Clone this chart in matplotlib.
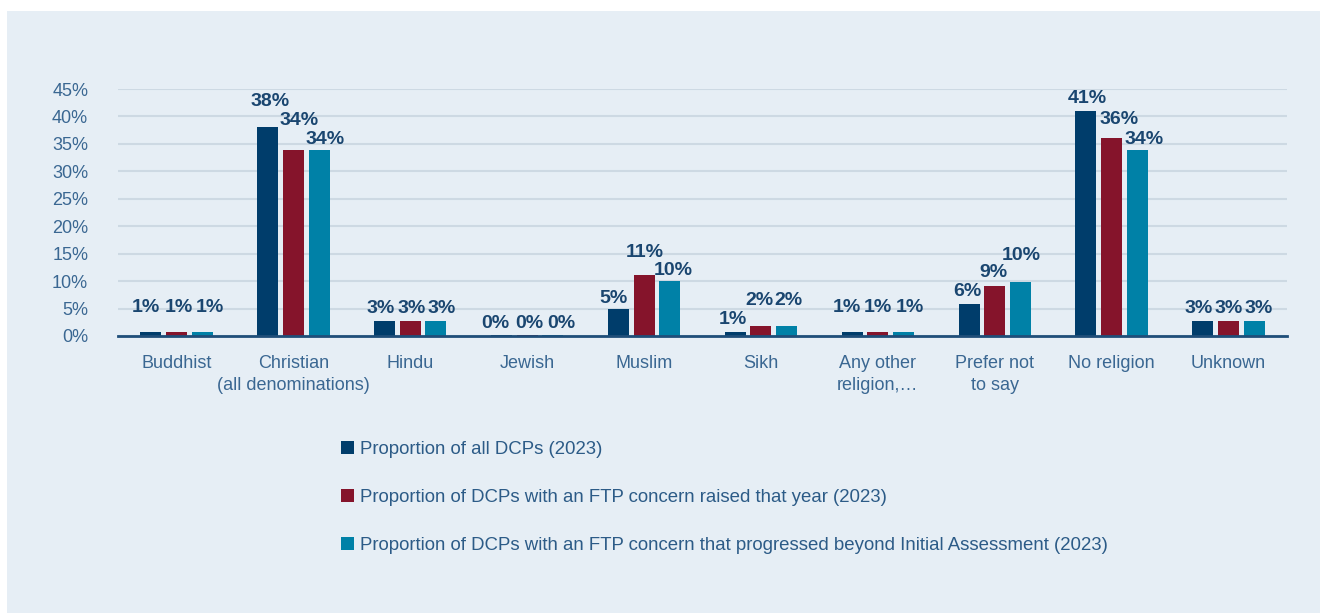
import numpy as np
import matplotlib.pyplot as plt
from matplotlib.patches import Rectangle, Patch

# data (percent)
categories = ['Buddhist', 'Christian\n(all denominations)', 'Hindu', 'Jewish',
              'Muslim', 'Sikh', 'Any other\nreligion,…', 'Prefer not\nto say',
              'No religion', 'Unknown']
all_dcps = [0.7, 38.0, 2.7, 0.2, 4.9, 0.7, 0.7, 5.8, 41.0, 2.7]
ftp_raised = [0.7, 33.9, 2.7, 0.2, 11.1, 1.9, 0.7, 9.1, 36.1, 2.7]
ftp_progressed = [0.7, 33.9, 2.7, 0.2, 10.0, 1.9, 0.7, 9.9, 33.9, 2.7]
series_names = ['Proportion of all DCPs (2023)',
                'Proportion of DCPs with an FTP concern raised that year (2023)',
                'Proportion of DCPs with an FTP concern that progressed beyond Initial Assessment (2023)']
yticks = [0, 5, 10, 15, 20, 25, 30, 35, 40, 45]

# styling
colors = ['#003d6b', '#85142b', '#0081a7']
bg = '#e6eef5'
label_col = '#1a4670'
tick_col = '#3a6792'
# label nudges in pixels (mimic the spreadsheet's collision-avoiding placement)
label_gap = [(20, 20, 20), (21, 25, 6), (8, 8, 8), (7, 7, 7), (6, 18, 6),
             (8, 21, 21), (20, 20, 20), (8, 9, 22), (8, 14, 6), (8, 8, 8)]
label_dx = [(-5, 2, 8), (2, 6, 6), (-4, 1, 6), (-6, 2, 8), (-5, 1, 3),
            (-2, -2, 2), (-5, 0, 6), (-2, -1, 1), (1, 7, 7), (-4, 0, 4)]

plt.rcParams['font.family'] = ['Liberation Sans', 'DejaVu Sans']

W, H = 1320, 613
fig = plt.figure(figsize=(W / 100, H / 100), dpi=100)
fig.patch.set_facecolor('white')
fig.patches.append(Rectangle((7 / W, 0), 1 - 7 / W, 1 - 11 / H,
                             transform=fig.transFigure, facecolor=bg,
                             edgecolor='none', zorder=-5))

ax = fig.add_axes([118 / W, 1 - 336 / H, (1287 - 118) / W, (336 - 89) / H])
ax.set_facecolor('none')

x = np.arange(len(categories))
width = 0.18
offset = 0.22
series = [all_dcps, ftp_raised, ftp_progressed]
for i, (vals, col, name) in enumerate(zip(series, colors, series_names)):
    xs = x + (i - 1) * offset
    ax.bar(xs, vals, width=width, color=col, label=name, zorder=3)
    for j, v in enumerate(vals):
        ax.annotate(f'{v:.0f}%', (xs[j], v),
                    xytext=(label_dx[j][i] * 0.72, label_gap[j][i] * 0.72),
                    textcoords='offset points',
                    ha='center', va='baseline', fontsize=14, fontweight='bold',
                    color=label_col, zorder=4)

ax.set_xlim(-0.5, len(categories) - 0.5)
ax.set_ylim(0, 45)
ax.set_yticks(yticks)
ax.set_yticklabels([f'{t}%' for t in yticks])
ax.set_xticks(x)
ax.set_xticklabels(categories, linespacing=1.42)
ax.tick_params(axis='y', length=0, pad=21.5, labelsize=13, labelcolor=tick_col)
ax.tick_params(axis='x', length=0, pad=13.5, labelsize=13, labelcolor=tick_col)
ax.yaxis.grid(True, color='#cdd9e3', linewidth=1.5, zorder=0)
ax.set_axisbelow(True)
for s in ['top', 'right', 'left']:
    ax.spines[s].set_visible(False)
ax.spines['bottom'].set_color('#1f4e79')
ax.spines['bottom'].set_linewidth(2)
ax.spines['bottom'].set_zorder(5)

handles = [Patch(facecolor=c, edgecolor='none') for c in colors]
leg = fig.legend(handles, series_names, loc='upper left',
                 bbox_to_anchor=(341 / W, 1 - 441 / H), frameon=False,
                 fontsize=13.4, labelcolor='#2c5b87', handlelength=0.72,
                 handleheight=0.72, handletextpad=0.3, labelspacing=1.66,
                 borderpad=0, borderaxespad=0)

fig.savefig('out.png', dpi=100, facecolor=fig.get_facecolor())
